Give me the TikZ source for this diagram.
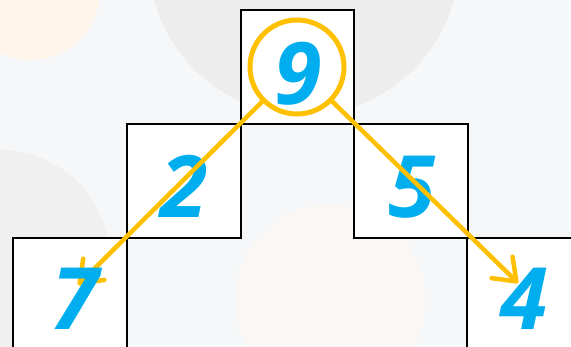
\documentclass[tikz,border=0pt]{standalone}
\usepackage{fontspec}
\newfontfamily\numfont{Open Sans}
\usetikzlibrary{arrows.meta}
\definecolor{numblue}{HTML}{00AEEF}
\definecolor{ringgold}{HTML}{FFC000}
\definecolor{bggray}{HTML}{F6F7F8}
\begin{document}
\begin{tikzpicture}[x=1pt, y=-1pt, box/.style={rectangle, draw, line width=2.2pt, fill=white, minimum size=113.5pt, inner sep=0pt}, num/.style={text=numblue, inner sep=0pt, font=\numfont\bfseries\itshape\fontsize{86}{86}\selectfont}, ring/.style={circle, draw=ringgold, line width=5pt, minimum size=94pt, inner sep=0pt}, arr/.style={draw=ringgold, line width=4.5pt, line cap=round, -{Straight Barb[round, length=20pt, width=30pt]}}]
        \useasboundingbox (0, 0) rectangle (571, 347);
        \fill[bggray] (0, 0) rectangle (571, 347);
        % faint background balls
        \fill[black!7] (304, -40) circle (155);
        \fill[orange!8] (30, -10) circle (70);
        \fill[black!6] (0, 260) circle (110);
        \fill[brown!6] (330, 300) circle (95);
        \fill[orange!8] (545, 300) circle (60);
        \node[box] (b9) at (297.5, 67) {};
        \node[box] (b2) at (184, 181) {};
        \node[box] (b5) at (411, 181) {};
        \node[box] (b7) at (70, 295) {};
        \node[box] (b4) at (524, 295) {};
        \node[num] (n9) at (298, 74) {9};
        \node[num] (n2) at (184, 186) {2};
        \node[num] (n5) at (412, 187) {5};
        \node[num] (n4) at (524, 299) {4};
        \node[ring] (c9) at (297, 67) {};
        \coordinate (t7) at (78, 285);
        \coordinate (t4) at (518, 283);
        \draw[arr] (c9) -- (t7);
        \draw[arr] (c9) -- (t4);
        % digit 7 sits over its arrow tip
        \node[num] (n7) at (75, 299) {7};
    \end{tikzpicture}
\end{document}
